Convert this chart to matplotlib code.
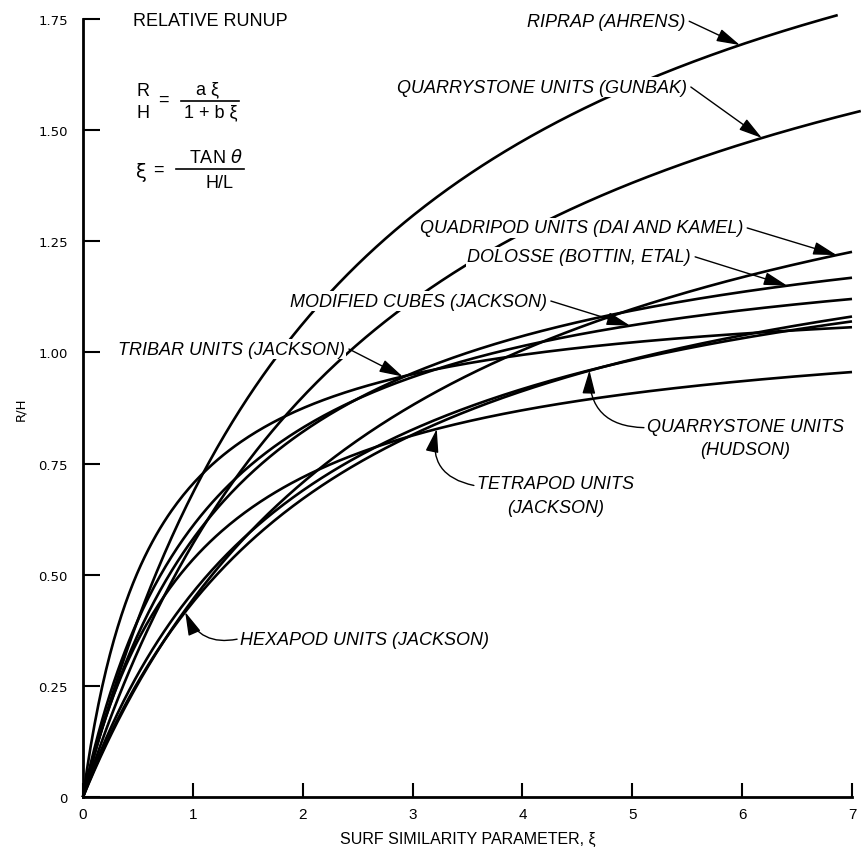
import numpy as np
import matplotlib
matplotlib.use("Agg")
import matplotlib.pyplot as plt

# ---- data: runup coefficients R/H = a*xi/(1+b*xi) ----
units = ["RIPRAP (AHRENS)", "QUARRYSTONE UNITS (GUNBAK)", "QUADRIPOD UNITS (DAI AND KAMEL)",
         "DOLOSSE (BOTTIN, ETAL)", "MODIFIED CUBES (JACKSON)", "TRIBAR UNITS (JACKSON)",
         "QUARRYSTONE UNITS\n(HUDSON)", "TETRAPOD UNITS\n(JACKSON)", "HEXAPOD UNITS (JACKSON)"]
coef_a = [0.956, 0.775, 0.597, 0.988, 1.147, 1.81, 0.692, 1.037, 0.631]
coef_b = [0.398, 0.361, 0.344, 0.703, 0.881, 1.57, 0.504, 0.942, 0.441]
xi_end = [6.87, 7.08, 7.0, 7.0, 7.0, 7.0, 7.0, 7.0, 7.0]
xi_arrow = [5.98, 6.18, 6.86, 6.41, 4.98, 2.91, 4.61, 3.22, 0.93]

xticks = [0, 1, 2, 3, 4, 5, 6, 7]
yticks = [0, 0.25, 0.50, 0.75, 1.00, 1.25, 1.50, 1.75]
ytick_labels = ["0", "0.25", "0.50", "0.75", "1.00", "1.25", "1.50", "1.75"]

# ---- layout (label text position, alignment, which side the arrow leaves, arc) ----
label_pos = [(4.04, 1.745), (2.857, 1.597), (3.066, 1.28), (3.50, 1.215), (1.883, 1.1156),
             (0.318, 1.0076), (6.03, 0.808), (4.30, 0.678), (1.43, 0.355)]
label_ha = ["left", "left", "left", "left", "left", "left", "center", "center", "left"]
arrow_side = ["right", "right", "right", "right", "right", "right", "left", "left", "left"]
arrow_rad = [0, 0, 0, 0, 0, 0, -0.5, -0.5, -0.4]

W, H = 862, 853
fig = plt.figure(figsize=(W / 100, H / 100), dpi=100)
ax = fig.add_axes([83 / W, 1 - 798 / H, (852 - 83) / W, (798 - 20) / H])
ax.set_xlim(0, 7)
ax.set_ylim(0, 1.75)

def runup(a, b, x):
    return a * x / (1 + b * x)

for a, b, xe in zip(coef_a, coef_b, xi_end):
    x = np.linspace(0, xe, 400)
    ax.plot(x, runup(a, b, x), color="black", lw=1.9, clip_on=False, zorder=2,
            solid_capstyle="butt")

label_font = dict(family="Liberation Sans", style="italic", fontsize=13)
texts = []
for name, pos, ha in zip(units, label_pos, label_ha):
    t = ax.text(pos[0], pos[1], name, ha=ha, va="center", zorder=4, linespacing=1.5,
                bbox=dict(facecolor="white", edgecolor="none", pad=1.0), **label_font)
    texts.append(t)

fig.canvas.draw()
renderer = fig.canvas.get_renderer()
inv = ax.transData.inverted()
for t, side, xa, a, b, rad in zip(texts, arrow_side, xi_arrow, coef_a, coef_b, arrow_rad):
    bb = t.get_window_extent(renderer)
    nlines = t.get_text().count("\n") + 1
    line_h = bb.height / nlines
    if side == "right":
        px, py = bb.x1 + 4, bb.y1 - line_h / 2
    else:
        px, py = bb.x0 - 3, bb.y1 - line_h / 2
    st = inv.transform((px, py))
    ax.annotate("", xy=(xa, runup(a, b, xa)), xytext=tuple(st), zorder=5,
                arrowprops=dict(arrowstyle="-|>,head_length=0.9,head_width=0.25",
                                color="black", lw=1.0, mutation_scale=16,
                                shrinkA=0, shrinkB=0,
                                connectionstyle=f"arc3,rad={rad}"))

# axes styling
for s in ["top", "right"]:
    ax.spines[s].set_visible(False)
for s in ["left", "bottom"]:
    ax.spines[s].set_linewidth(2.0)
ax.set_xticks(xticks)
ax.set_xticklabels([str(t) for t in xticks], family="Liberation Sans", fontsize=11)
ax.set_yticks(yticks)
ax.set_yticklabels(ytick_labels, family="DejaVu Sans", fontsize=9.5)
ax.tick_params(axis="both", direction="in", width=1.5)
ax.tick_params(axis="y", length=12, pad=11)
ax.tick_params(axis="x", length=10, pad=7)
ax.set_xlabel("SURF SIMILARITY PARAMETER, ξ", family="Liberation Sans", fontsize=11.5,
              labelpad=7)
ax.set_ylabel("R/H", family="DejaVu Sans", fontsize=9.5, labelpad=8)

# title and equations (figure pixel coordinates)
def ft(px, py, s, **kw):
    fig.text(px / W, 1 - py / H, s, **kw)

ft(133, 22, "RELATIVE RUNUP", family="Liberation Sans", fontsize=13, va="center")
eq = dict(family="Liberation Sans", fontsize=13, va="center")
ft(137, 91, "R", **eq)
ft(137, 113, "H", **eq)
ft(158, 100, "=", **eq)
ft(208, 90, "a ξ", ha="center", **eq)
ft(211, 113, "1 + b ξ", ha="center", **eq)
fig.add_artist(plt.Line2D([181 / W, 239 / W], [1 - 102 / H, 1 - 102 / H], color="black", lw=1.2))
ft(136, 172, "ξ", family="DejaVu Sans", fontsize=14, va="center")
ft(153, 170, "=", **eq)
ft(216, 158, "TAN $\\theta$", ha="center", **eq)
ft(220, 184, "H/L", ha="center", **eq)
fig.add_artist(plt.Line2D([176 / W, 244 / W], [1 - 170 / H, 1 - 170 / H], color="black", lw=1.2))

fig.savefig("out.png", dpi=100)
